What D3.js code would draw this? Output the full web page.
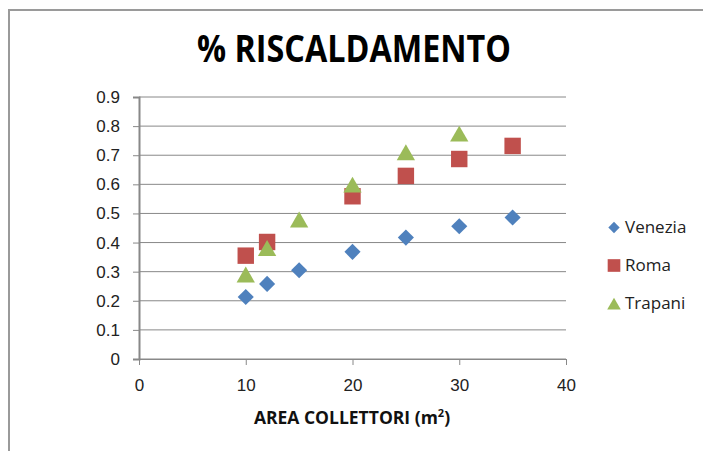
<!DOCTYPE html>
<html>
<head>
<meta charset="utf-8">
<script src="https://cdn.jsdelivr.net/npm/d3@7"></script>
<style>
  body { margin: 0; background: #fff; }
  svg { display: block; font-family: "Open Sans", "Liberation Sans", sans-serif; }
</style>
</head>
<body>
<div id="chart"></div>
<script>
// Series data
const seriesNames = ["Venezia", "Roma", "Trapani"];
const venezia = [[10, 0.213], [12, 0.258], [15, 0.305], [20, 0.368], [25, 0.417], [30, 0.456], [35, 0.486]];
const roma = [[10, 0.355], [12, 0.402], [20, 0.559], [25, 0.629], [30, 0.687], [35, 0.732]];
const trapani = [[10, 0.29], [12, 0.381], [15, 0.479], [20, 0.599], [25, 0.71], [30, 0.774]];
const xTicks = [0, 10, 20, 30, 40];
const yTicks = [0, 0.1, 0.2, 0.3, 0.4, 0.5, 0.6, 0.7, 0.8, 0.9];
const colors = ["#4F81BD", "#C0504D", "#9BBB59"];

const W = 703, H = 451;
const margin = { top: 97, right: 137, bottom: 92, left: 139 };
const width = W - margin.left - margin.right;
const height = H - margin.top - margin.bottom;

const svg = d3.select("#chart").append("svg")
    .attr("width", W)
    .attr("height", H);

// Chart frame (only top and left edges visible)
svg.append("path")
    .attr("d", `M9,${H} L9,10 L${W},10`)
    .attr("fill", "none")
    .attr("stroke", "#9a9a9a")
    .attr("stroke-width", 2);

const g = svg.append("g")
    .attr("transform", `translate(${margin.left},${margin.top})`);

const x = d3.scaleLinear().domain([0, 40]).range([0, width]);
const y = d3.scaleLinear().domain([0, 0.9]).range([height, 0]);

// Gridlines
g.append("g")
    .selectAll("line")
    .data(yTicks)
    .join("line")
    .attr("x1", 0)
    .attr("x2", width)
    .attr("y1", d => y(d))
    .attr("y2", d => y(d))
    .attr("stroke", "#888")
    .attr("stroke-width", 1);

// Y axis
const yAxis = g.append("g")
    .call(d3.axisLeft(y).tickValues(yTicks).tickSize(6).tickPadding(13).tickFormat(d => d === 0 ? "0" : d3.format(".1f")(d)));
yAxis.select(".domain").attr("stroke", "#888").attr("stroke-width", 2);
yAxis.selectAll(".tick line").attr("stroke", "#888");
yAxis.selectAll("text").attr("fill", "#222").style("font-size", "17px");

// X axis
const xAxis = g.append("g")
    .attr("transform", `translate(0,${height})`)
    .call(d3.axisBottom(x).tickValues(xTicks).tickSize(6).tickPadding(14));
xAxis.select(".domain").attr("stroke", "#888").attr("stroke-width", 1);
xAxis.selectAll(".tick line").attr("stroke", "#888");
xAxis.selectAll("text").attr("fill", "#222").style("font-size", "17px");

// Markers: diamond = rotated square, triangle shifted so its box is centred
const symbols = [d3.symbolSquare, d3.symbolSquare, d3.symbolTriangle];
const sizes = [130, 270, 145];
const extra = [" rotate(45)", "", " translate(0,2.6)"];
const allSeries = [venezia, roma, trapani];

allSeries.forEach((data, i) => {
    g.append("g")
        .selectAll("path")
        .data(data)
        .join("path")
        .attr("transform", d => `translate(${x(d[0])},${y(d[1])})` + extra[i])
        .attr("d", d3.symbol().type(symbols[i]).size(sizes[i]))
        .attr("fill", colors[i]);
});

// Title
svg.append("text")
    .attr("x", 354)
    .attr("y", 62)
    .attr("text-anchor", "middle")
    .attr("textLength", 314)
    .attr("lengthAdjust", "spacingAndGlyphs")
    .style("font-size", "38px")
    .style("font-weight", "bold")
    .attr("fill", "#000")
    .text("% RISCALDAMENTO");

// X axis title
const xt = svg.append("text")
    .attr("x", 352)
    .attr("y", 424)
    .attr("text-anchor", "middle")
    .style("font-size", "17.5px")
    .style("font-weight", "bold")
    .attr("fill", "#111");
xt.append("tspan").text("AREA COLLETTORI (m");
xt.append("tspan").attr("dy", -7).style("font-size", "11px").text("2");
xt.append("tspan").attr("dy", 7).text(")");

// Legend
const legendSizes = [64, 160, 80];
const legendExtra = [" rotate(45)", "", " translate(0,2)"];
const legend = svg.append("g");
seriesNames.forEach((name, i) => {
    const ly = 227.5 + i * 38;
    legend.append("path")
        .attr("transform", `translate(614,${ly})` + legendExtra[i])
        .attr("d", d3.symbol().type(symbols[i]).size(legendSizes[i]))
        .attr("fill", colors[i]);
    legend.append("text")
        .attr("x", 625)
        .attr("y", ly + 5.5)
        .style("font-size", "17px")
        .attr("fill", "#222")
        .text(name);
});
</script>
</body>
</html>
